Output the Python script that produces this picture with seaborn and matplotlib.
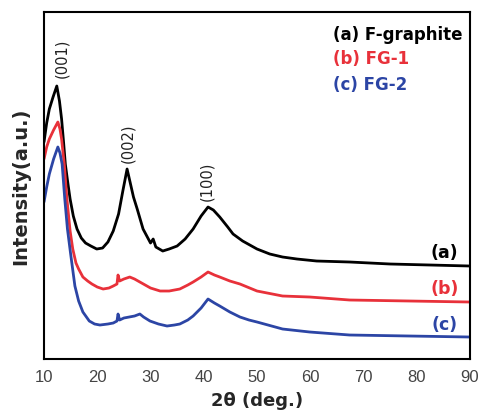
import matplotlib
matplotlib.use("Agg")
import matplotlib.pyplot as plt
import seaborn as sns
import pandas as pd

# XRD patterns (2-theta in degrees, intensity in arbitrary units, offset for display)
two_theta_a = [10.0, 10.5, 11.0, 11.7, 12.4, 12.9, 13.3, 13.7, 14.0, 14.5, 14.9, 15.5,
               16.2, 17.0, 17.8, 18.8, 19.9, 21.0, 22.0, 23.0, 24.0, 24.8, 25.6, 26.2,
               26.8, 27.5, 28.6, 29.5, 30.0, 30.5, 31.0, 32.3, 33.5, 35.0, 36.5, 38.0,
               39.5, 40.8, 41.8, 43.0, 44.5, 45.5, 47.3, 50.0, 52.4, 54.8, 57.5, 61.2,
               67.4, 75.0, 90.0]
intensity_a = [217, 236, 250, 262, 273, 258, 240, 215, 195, 175, 160, 143,
               130, 121, 116, 113, 110, 111, 117, 128, 145, 168, 190, 176,
               162, 150, 130, 121, 116, 120, 112, 108, 110, 113, 120, 130,
               143, 152, 149, 142, 132, 125, 118, 110, 105, 102, 100, 98,
               97, 95, 93]

two_theta_b = [10.0, 10.5, 11.0, 11.8, 12.6, 13.0, 13.3, 13.8, 14.3, 14.9, 15.4, 16.0,
               16.5, 17.3, 18.2, 19.0, 20.0, 21.1, 22.2, 23.0, 23.7, 23.9, 24.2, 25.0,
               26.1, 27.0, 28.0, 29.0, 30.0, 31.8, 33.5, 35.5, 37.0, 38.0, 39.5, 40.8,
               42.0, 43.0, 44.9, 46.8, 50.0, 54.8, 59.9, 67.4, 90.0]
intensity_b = [200, 212, 220, 229, 237, 230, 220, 195, 160, 128, 110, 96,
               90, 82, 78, 75, 72, 70, 71, 73, 75, 84, 78, 80,
               82, 80, 77, 74, 71, 68, 68, 70, 74, 77, 82, 87,
               84, 82, 78, 75, 68, 63, 62, 59, 57]

two_theta_c = [10.0, 10.5, 11.0, 11.8, 12.6, 13.0, 13.4, 13.9, 14.4, 15.0, 15.8, 16.5,
               17.3, 18.5, 19.5, 20.5, 22.0, 23.0, 23.7, 23.9, 24.2, 25.0, 26.0, 27.0,
               28.0, 28.7, 29.9, 31.5, 33.1, 34.5, 35.5, 37.0, 38.0, 39.5, 40.8, 42.0,
               43.0, 44.9, 46.8, 48.5, 50.0, 54.8, 59.9, 67.4, 90.0]
intensity_c = [157, 172, 185, 200, 212, 206, 195, 160, 130, 105, 73, 58,
               47, 38, 35, 34, 35, 36, 38, 45, 39, 41, 42, 43,
               45, 42, 38, 35, 33, 34, 35, 39, 43, 51, 60, 56,
               53, 47, 42, 39, 37, 30, 27, 24, 22]

series_names = ["(a) F-graphite", "(b) FG-1", "(c) FG-2"]
short_tags = ["(a)", "(b)", "(c)"]
colors = ["#000000", "#e8313a", "#2c45a5"]

peak_labels = ["(001)", "(002)", "(100)"]
peak_x = [13.4, 25.8, 40.6]
peak_y = [302, 217, 179]

x_ticks = [10, 20, 30, 40, 50, 60, 70, 80, 90]

frames = []
for name, xs, ys in zip(series_names,
                        [two_theta_a, two_theta_b, two_theta_c],
                        [intensity_a, intensity_b, intensity_c]):
    frames.append(pd.DataFrame({"two_theta": xs, "intensity": ys, "sample": name}))
data = pd.concat(frames, ignore_index=True)

sns.set_style("white")
plt.rcParams["font.family"] = ["DejaVu Sans"]

fig = plt.figure(figsize=(4.8, 4.14), dpi=100)
ax = fig.add_axes([0.0917, 0.1304, 0.8875, 0.8382])

sns.lineplot(data=data, x="two_theta", y="intensity", hue="sample",
             palette=dict(zip(series_names, colors)), sort=False,
             estimator=None, linewidth=2.0, legend=False, ax=ax)

ax.set_xlim(10, 90)
ax.set_ylim(0, 347)
ax.set_xticks(x_ticks)
ax.set_xticks(range(15, 90, 10), minor=True)
ax.set_yticks([])
ax.tick_params(axis="x", which="major", direction="out", length=4, width=1.5,
               labelsize=12, labelcolor="#444444", pad=3)
ax.tick_params(axis="x", which="minor", direction="out", length=3, width=1.5)
for lab in ax.get_xticklabels():
    lab.set_fontfamily("Liberation Sans")
for side in ax.spines.values():
    side.set_linewidth(1.5)
    side.set_color("black")

ax.set_xlabel("2θ (deg.)", fontsize=13, fontweight="bold", labelpad=5)
ax.set_ylabel("Intensity(a.u.)", fontsize=14, fontweight="bold", labelpad=10)

# Reflection indices above the peaks
for txt, px, py in zip(peak_labels, peak_x, peak_y):
    ax.text(px, py, txt, rotation=90, ha="center", va="center",
            fontsize=10.5, color="#222222")

# Sample key in the upper right
key_y = [325, 301, 275]
for name, col, ky in zip(series_names, colors, key_y):
    ax.text(64.2, ky, name, ha="left", va="center", fontsize=12,
            fontweight="bold", color=col)

# Curve tags at the right end
tag_y = [107, 71, 35]
for tag, col, ty in zip(short_tags, colors, tag_y):
    ax.text(85.2, ty, tag, ha="center", va="center", fontsize=12.5,
            fontweight="bold", color=col)

fig.savefig("out.png", dpi=100)
